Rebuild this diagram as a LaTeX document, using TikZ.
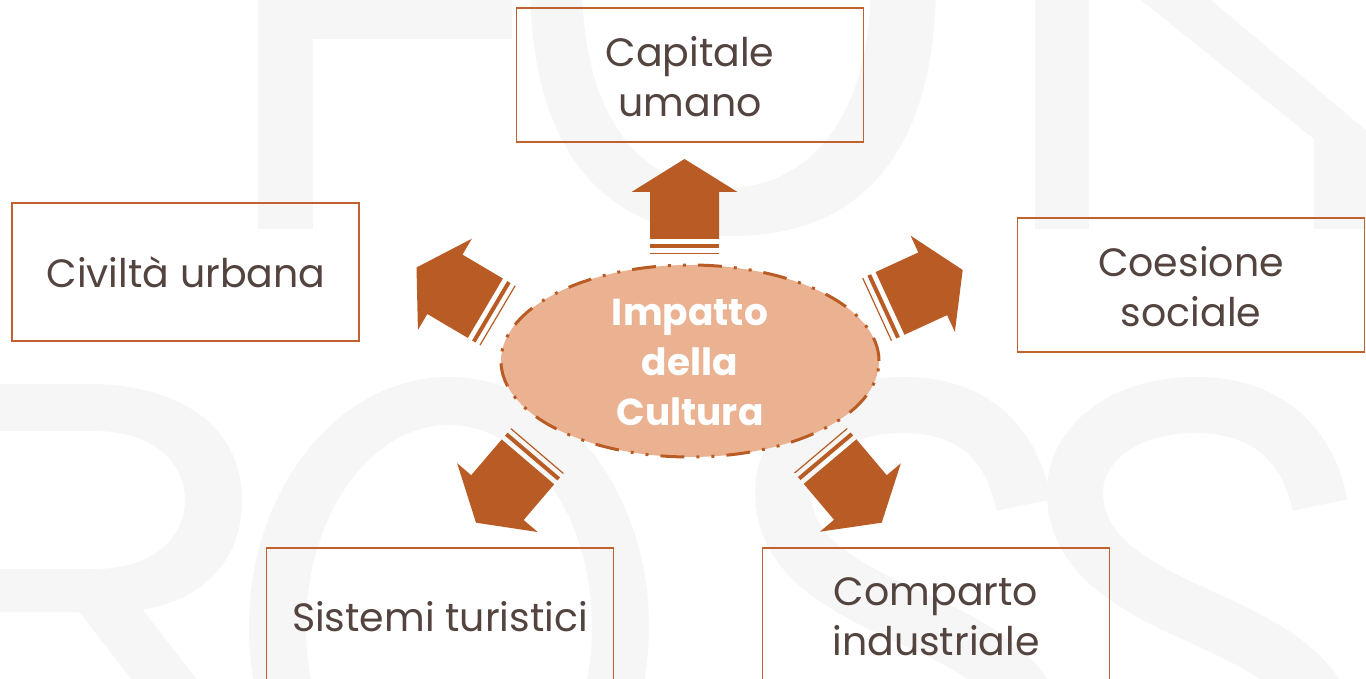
\documentclass[tikz,border=0pt]{standalone}
\usepackage{fontspec}
\setmainfont{Poppins}
\usetikzlibrary{shapes.geometric}
\definecolor{arrowc}{HTML}{B95B24}
\definecolor{boxc}{HTML}{BF6230}
\definecolor{ellfill}{HTML}{EBB291}
\definecolor{txt}{HTML}{54443F}
\definecolor{wm}{HTML}{F6F6F6}
\tikzset{
  barrow/.pic={
    \fill[arrowc] (0,0) -- (-33,53) -- (-33,34.5) -- (-80,34.5) -- (-80,-34.5) -- (-33,-34.5) -- (-33,-53) -- cycle;
    \fill[arrowc] (-85,-34.5) rectangle (-89,34.5);
    \fill[arrowc] (-93.6,-34.5) rectangle (-94.8,34.5);
  },
  box/.style={draw=boxc, line width=1.6pt, inner sep=0pt, minimum width=347pt},
  lbl/.style={text=txt, font=\fontsize{39.5}{50}\selectfont, align=center, inner sep=0pt},
  wmfill/.style={fill=wm, draw=none},
}
\begin{document}
\begin{tikzpicture}[x=1pt,y=-1pt]
\useasboundingbox (0,0) rectangle (1366,679);
\fill[white] (0,0) rectangle (1366,679);
\begin{scope}
\clip (0,0) rectangle (1366,679);
% watermark letters (top row)
\fill[wmfill] (258,-30) rectangle (313,229);
\fill[wmfill] (258,-30) rectangle (512,39);
\fill[wmfill, even odd rule]
  (530,-30) -- (530,-20) .. controls (530,180) and (630,236) .. (733,236)
  .. controls (836,236) and (936,180) .. (936,-20) -- (936,-30) -- cycle
  (582,-30) -- (582,-20) .. controls (582,130) and (650,188) .. (726,188)
  .. controls (800,188) and (871,130) .. (871,-20) -- (871,-30) -- cycle;
\fill[wmfill] (1035,-30) rectangle (1089,229);
\fill[wmfill] (1116,-20) -- (1187,-20) -- (1400,159) -- (1400,229) -- (1314,229) -- (1314,139) -- cycle;
% watermark letters (bottom row)
\fill[wmfill, even odd rule]
  (-60,384) -- (87,384) .. controls (185,384) and (242,430) .. (242,500)
  .. controls (242,570) and (190,612) .. (110,612) -- (-60,612) -- cycle
  (-1,431) -- (95,431) .. controls (150,431) and (185,460) .. (185,500)
  .. controls (185,540) and (150,569) .. (95,569) -- (-1,569) -- cycle;
\fill[wmfill] (70,600) -- (135,600) -- (205,690) -- (140,690) -- cycle;
\fill[wmfill, even odd rule] (449,627) ellipse [x radius=200, y radius=250]
  (449,627) ellipse [x radius=143, y radius=202];
\draw[wm, line width=56pt] (1024,505) .. controls (1010,435) and (965,405) .. (904,405)
  .. controls (830,405) and (783,445) .. (783,492) .. controls (783,560) and (850,590) .. (920,622)
  .. controls (1000,658) and (1040,690) .. (1045,760);
\draw[wm, line width=56pt] (1320,505) .. controls (1306,435) and (1257,405) .. (1196,405)
  .. controls (1122,405) and (1075,445) .. (1075,492) .. controls (1075,560) and (1142,590) .. (1212,622)
  .. controls (1292,658) and (1332,690) .. (1337,760);
% boxes
\node[box, minimum height=134pt] (capbox) at (690,75) {};
\node[box, minimum height=138pt] (civbox) at (185.5,272) {};
\node[box, minimum height=134pt] (coebox) at (1191,285) {};
\node[box, minimum height=170pt] (sisbox) at (440,633) {};
\node[box, minimum height=170pt] (combox) at (936,633) {};
\end{scope}
\node[lbl] (captxt) at (690,77) {Capitale\\umano};
\node[lbl] (civtxt) at (186,272) {Civiltà urbana};
\node[lbl] (coetxt) at (1191,287) {Coesione\\sociale};
\node[lbl] (sistxt) at (440,617) {Sistemi turistici};
\node[lbl] (comtxt) at (936,617) {Comparto\\industriale};
% arrows
\pic (a1) [rotate=90] at (684.5,159) {barrow};
\pic (a2) [rotate=149.4] at (416.5,267.5) {barrow};
\pic (a3) [rotate=24.7] at (962.7,270) {barrow};
\pic (a4) [rotate=229.5] at (476,522.7) {barrow};
\pic (a5) [rotate=310.2] at (881.7,522.7) {barrow};
% centre
\node[ellipse, draw=arrowc, fill=ellfill, line width=3pt, minimum width=378pt, minimum height=192pt,
  dash pattern=on 24pt off 12pt on 3pt off 12pt on 3pt off 12pt] (core) at (690,361) {};
\node[text=white, font=\fontsize{37.5}{50}\selectfont\bfseries, align=center, inner sep=0pt] (coretxt) at (690,362) {Impatto\\della\\Cultura};
\end{tikzpicture}
\end{document}
